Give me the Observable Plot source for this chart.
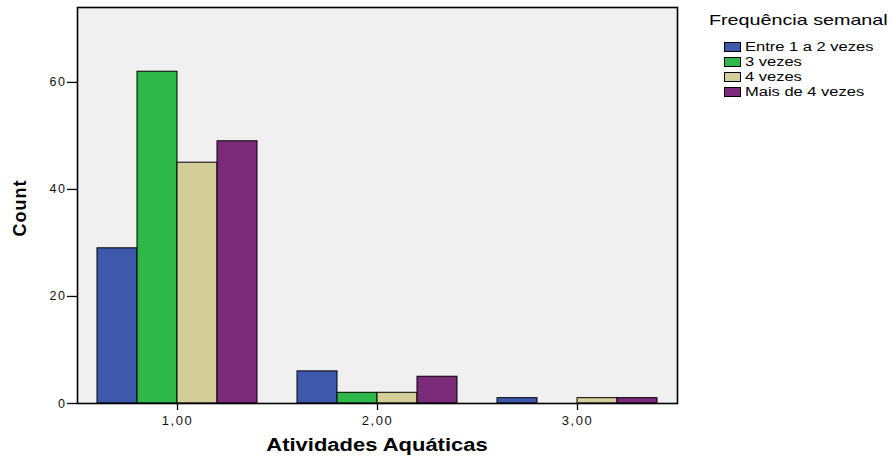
<!DOCTYPE html>
<html>
<head>
<meta charset="utf-8">
<script src="https://cdn.jsdelivr.net/npm/d3@7"></script>
<script src="https://cdn.jsdelivr.net/npm/@observablehq/plot@0.6"></script>
<style>
  html, body { margin: 0; padding: 0; background: #fff; }
  #wrap { position: relative; width: 893px; height: 461px; font-family: "Liberation Sans", Arial, sans-serif; color: #000; }
  #wrap svg { position: absolute; left: 0; top: 0; }
  .abs { position: absolute; white-space: nowrap; line-height: 1; }
  #xlabel { left: 377px; top: 436px; font-size: 18px; font-weight: bold; transform: translateX(-50%) scaleX(1.22); }
  #ylabel { left: 20px; top: 208px; font-size: 18px; font-weight: bold; letter-spacing: 1px; transform: translate(-50%, -50%) rotate(-90deg); }
  .ltitle { left: 709px; top: 13px; font-size: 14.5px; transform-origin: 0 0; transform: scaleX(1.36); }
  .litem { left: 745px; font-size: 12.5px; transform-origin: 0 0; transform: scaleX(1.32); }
  .sw { position: absolute; left: 724px; width: 17px; height: 10px; border: 1px solid #000; box-sizing: border-box; }
</style>
</head>
<body>
<div id="wrap">
  <div id="xlabel" class="abs">Atividades Aquáticas</div>
  <div id="ylabel" class="abs">Count</div>
</div>
<script>
const groups = ["1,00", "2,00", "3,00"];
const series = ["Entre 1 a 2 vezes", "3 vezes", "4 vezes", "Mais de 4 vezes"];
const colors = ["#3e58ab", "#2eb84a", "#d4cf98", "#7b2979"];
const countsGroup1 = [29, 62, 45, 49];
const countsGroup2 = [6, 2, 2, 5];
const countsGroup3 = [1, 0, 1, 1];
const yTicks = [0, 20, 40, 60];
const legendTitle = "Frequência semanal";

const allCounts = [countsGroup1, countsGroup2, countsGroup3];
const data = groups.flatMap((g, gi) => series.map((s, si) => ({group: g, series: s, count: allCounts[gi][si]})));

const chart = Plot.plot({
  width: 893,
  height: 461,
  marginLeft: 67,
  marginRight: 206,
  marginTop: 7,
  marginBottom: 58,
  style: {fontFamily: "Liberation Sans, Arial, sans-serif", fontSize: "13px", color: "#111", background: "transparent", letterSpacing: "1.5px"},
  fx: {domain: groups, paddingInner: 0, paddingOuter: 0.05, label: null},
  x: {domain: series, paddingInner: 0, paddingOuter: 0.5, axis: null},
  y: {domain: [0, 74], label: null},
  color: {domain: series, range: colors},
  marks: [
    Plot.frame({facet: "super", fill: "#f0f0f0", stroke: null}),
    Plot.barY(data, {fx: "group", x: "series", y: "count", fill: "series", stroke: "#000", strokeWidth: 1, filter: d => d.count > 0}),
    Plot.frame({facet: "super", stroke: "#000", strokeWidth: 1.6}),
    Plot.axisY({ticks: yTicks, tickSize: 10, tickPadding: 1, label: null, stroke: "#000", strokeWidth: 1.3, fontSize: 12.5}),
    Plot.axisFx({anchor: "bottom", tickSize: 7, tickPadding: 5, label: null, stroke: "#000", strokeWidth: 1.3, fontSize: 13})
  ]
});
const wrap = document.getElementById("wrap");
wrap.prepend(chart);

const t = document.createElement("div");
t.className = "abs ltitle";
t.textContent = legendTitle;
wrap.appendChild(t);
series.forEach((s, i) => {
  const sw = document.createElement("div");
  sw.className = "sw";
  sw.style.top = (42 + 15 * i) + "px";
  sw.style.background = colors[i];
  wrap.appendChild(sw);
  const tx = document.createElement("div");
  tx.className = "abs litem";
  tx.style.top = (40.5 + 15 * i) + "px";
  tx.textContent = s;
  wrap.appendChild(tx);
});
</script>
</body>
</html>
